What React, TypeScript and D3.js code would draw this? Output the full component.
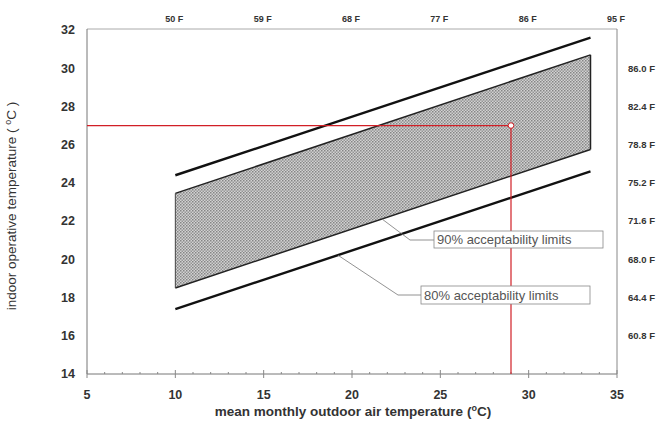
import React from "react";
import * as d3 from "d3";

const taEnds = [10, 33.5];
const upper80 = [24.4, 31.6];
const lower80 = [17.4, 24.6];
const upper90 = [23.45, 30.7];
const lower90 = [18.5, 25.75];
const xTicks = [5, 10, 15, 20, 25, 30, 35];
const yTicks = [14, 16, 18, 20, 22, 24, 26, 28, 30, 32];
const topLabels = ["50 F", "59 F", "68 F", "77 F", "86 F", "95 F"];
const topTickC = [10, 15, 20, 25, 30, 35];
const rightLabels = ["86.0 F", "82.4 F", "78.8 F", "75.2 F", "71.6 F", "68.0 F", "64.4 F", "60.8 F"];
const rightTickC = [30, 28, 26, 24, 22, 20, 18, 16];
const refPoint = [29, 27];
const label90 = "90% acceptability limits";
const label80 = "80% acceptability limits";

export default function App() {
  const W = 659, H = 424;
  const L = 87, R = 617, T = 30, B = 374;
  const x = d3.scaleLinear().domain([5, 35]).range([L, R]);
  const y = d3.scaleLinear().domain([14, 32]).range([B, T]);
  const font = "Arial, 'Liberation Sans', sans-serif";

  const band = [
    [taEnds[0], upper90[0]],
    [taEnds[1], upper90[1]],
    [taEnds[1], lower90[1]],
    [taEnds[0], lower90[0]],
  ];
  const bandPath = d3.line<number[]>().x((d) => x(d[0])).y((d) => y(d[1]))(band) + "Z";
  const seg = (ys: number[]) =>
    d3.line<number>().x((_, i) => x(taEnds[i])).y((d) => y(d))(ys) as string;

  const minor = d3.range(5, 36, 1);

  const t90 = 21.7;
  const l90y = lower90[0] + (lower90[1] - lower90[0]) * (t90 - taEnds[0]) / (taEnds[1] - taEnds[0]);
  const t80 = 19.2;
  const l80y = lower80[0] + (lower80[1] - lower80[0]) * (t80 - taEnds[0]) / (taEnds[1] - taEnds[0]);
  const red = "#d11f26";

  return (
    <svg width={W} height={H} style={{ position: "absolute", left: 0, top: 0, background: "#fff" }}>
      <defs>
        <pattern id="stip" width="3" height="3" patternUnits="userSpaceOnUse">
          <rect width="3" height="3" fill="#d2d2d2" />
          <rect width="1.5" height="1.5" fill="#858585" />
          <rect x="1.5" y="1.5" width="1.5" height="1.5" fill="#959595" />
        </pattern>
      </defs>
      <line x1={L} x2={R} y1={T - 1} y2={T - 1} stroke="#aaa" strokeWidth={1} />
      <line x1={R} x2={R} y1={T - 1} y2={B} stroke="#888" strokeWidth={1} />
      <line x1={L} x2={L} y1={T - 1} y2={B} stroke="#777" strokeWidth={1} />
      <line x1={L} x2={R} y1={B} y2={B} stroke="#777" strokeWidth={1} />
      {minor.map((v) => (
        <line key={"m" + v} x1={x(v)} x2={x(v)} y1={B - (v % 5 === 0 ? 4 : 2)} y2={B + (v % 5 === 0 ? 4 : 0)} stroke="#888" strokeWidth={1} />
      ))}
      {yTicks.map((v) => (
        <text key={"y" + v} x={L - 12} y={y(v)} dy="0.35em" textAnchor="end" fontFamily={font} fontWeight="bold" fontSize={12.5} fill="#333">{v}</text>
      ))}
      {xTicks.map((v) => (
        <text key={"x" + v} x={x(v)} y={B + 21} dy="0.35em" textAnchor="middle" fontFamily={font} fontWeight="bold" fontSize={12.5} fill="#333">{v}</text>
      ))}
      {topLabels.map((s, i) => (
        <text key={"t" + s} x={x(topTickC[i]) - 1} y={T - 8} textAnchor="middle" fontFamily={font} fontWeight="bold" fontSize={9} fill="#333">{s}</text>
      ))}
      {rightLabels.map((s, i) => (
        <text key={"r" + s} x={R + 11} y={y(rightTickC[i])} dy="0.35em" textAnchor="start" fontFamily={font} fontWeight="bold" fontSize={9.5} fill="#333">{s}</text>
      ))}
      <path d={bandPath} fill="url(#stip)" stroke="none" />
      <path d={seg(upper90)} stroke="#222" strokeWidth={1.5} fill="none" />
      <path d={seg(lower90)} stroke="#222" strokeWidth={1.5} fill="none" />
      <line x1={x(taEnds[0])} x2={x(taEnds[0])} y1={y(upper90[0])} y2={y(lower90[0])} stroke="#444" strokeWidth={1} />
      <line x1={x(taEnds[1])} x2={x(taEnds[1])} y1={y(upper90[1])} y2={y(lower90[1])} stroke="#222" strokeWidth={1.5} />
      <path d={seg(upper80)} stroke="#111" strokeWidth={2.4} fill="none" />
      <path d={seg(lower80)} stroke="#111" strokeWidth={2.4} fill="none" />
      <line x1={L} x2={x(refPoint[0])} y1={y(refPoint[1])} y2={y(refPoint[1])} stroke={red} strokeWidth={1.2} />
      <line x1={x(refPoint[0])} x2={x(refPoint[0])} y1={y(refPoint[1])} y2={B} stroke={red} strokeWidth={1.2} />
      <circle cx={x(refPoint[0])} cy={y(refPoint[1])} r={2.8} fill="#fff" stroke={red} strokeWidth={1} />
      <polyline points={`${x(t90)},${y(l90y)} 410,240 434,240`} fill="none" stroke="#777" strokeWidth={0.8} />
      <rect x={434} y={231} width={169} height={17} fill="#fff" stroke="#888" strokeWidth={0.8} />
      <text x={437} y={244} fontFamily={font} fontSize={13} fill="#555">{label90}</text>
      <polyline points={`${x(t80)},${y(l80y)} 398,295 421,295`} fill="none" stroke="#777" strokeWidth={0.8} />
      <rect x={421} y={286} width={169} height={18} fill="#fff" stroke="#888" strokeWidth={0.8} />
      <text x={424} y={300} fontFamily={font} fontSize={13} fill="#555">{label80}</text>
      <text x={353} y={416} textAnchor="middle" fontFamily={font} fontWeight="bold" fontSize={13.5} fill="#333">
        mean monthly outdoor air temperature (<tspan fontSize={9} dy={-5}>o</tspan><tspan dy={5}>C)</tspan>
      </text>
      <text transform={`translate(16,${(T + B) / 2 + 4}) rotate(-90)`} textAnchor="middle" fontFamily={font} fontSize={13.5} fill="#333">
        indoor operative temperature ( <tspan fontSize={9} dy={-5}>o</tspan><tspan dy={5}>C )</tspan>
      </text>
    </svg>
  );
}
